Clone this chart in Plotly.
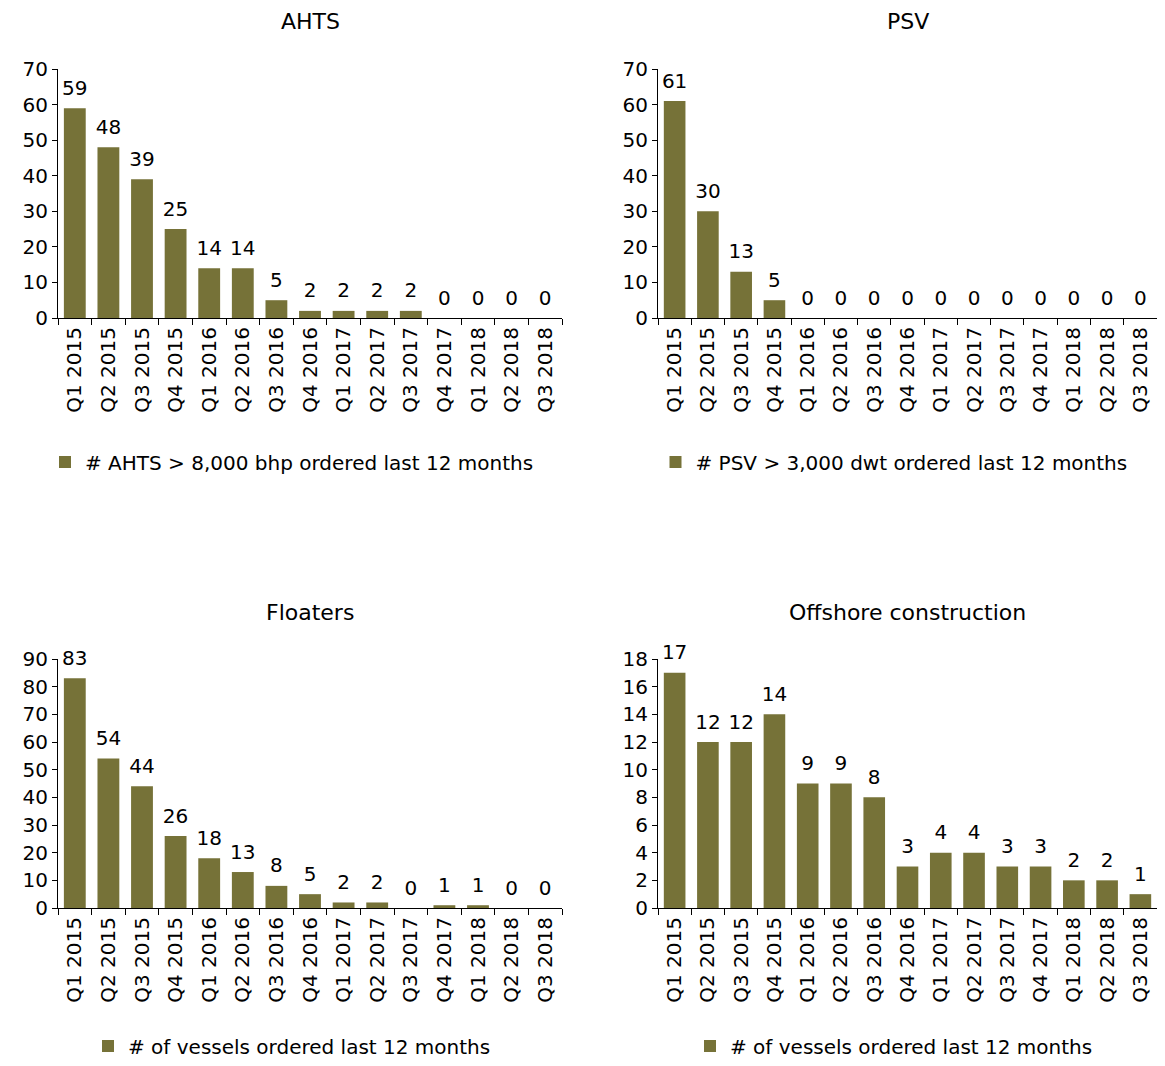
import plotly.graph_objects as go

quarters = ["Q1 2015", "Q2 2015", "Q3 2015", "Q4 2015", "Q1 2016", "Q2 2016", "Q3 2016",
            "Q4 2016", "Q1 2017", "Q2 2017", "Q3 2017", "Q4 2017", "Q1 2018", "Q2 2018", "Q3 2018"]
ahts = [59, 48, 39, 25, 14, 14, 5, 2, 2, 2, 2, 0, 0, 0, 0]
psv = [61, 30, 13, 5, 0, 0, 0, 0, 0, 0, 0, 0, 0, 0, 0]
floaters = [83, 54, 44, 26, 18, 13, 8, 5, 2, 2, 0, 1, 1, 0, 0]
construction = [17, 12, 12, 14, 9, 9, 8, 3, 4, 4, 3, 3, 2, 2, 1]

titles = ["AHTS", "PSV", "Floaters", "Offshore construction"]
legend_names = ["# AHTS > 8,000 bhp ordered last 12 months",
                "# PSV > 3,000 dwt ordered last 12 months",
                "# of vessels ordered last 12 months",
                "# of vessels ordered last 12 months"]
series = [ahts, psv, floaters, construction]
y_max = [70, 70, 90, 18]
y_step = [10, 10, 10, 2]

# page has an 8px body margin; keep the figure inside the viewport
OFF = 8
W, H = 1165 - 2 * OFF, 1066 - 2 * OFF
FONT = "Verdana, DejaVu Sans, sans-serif"
FS = 20
COLOR = "#767238"

# reference pixel boxes of plot areas (page coords): (x0, x1, ytop, ybottom)
boxes = [(58, 562, 69, 318), (658, 1157, 69, 318), (58, 562, 659, 908), (658, 1157, 659, 908)]
title_y = [22, 22, 612, 612]
legend_cx = [292, 894, 292, 894]
legend_y = [462, 462, 1046, 1046]


def px(x):
    return (x - OFF) / W


def py(y):
    return 1 - (y - OFF) / H


fig = go.Figure()
layout = dict(
    width=W, height=H, margin=dict(l=0, r=0, t=0, b=0, autoexpand=False),
    paper_bgcolor="white", plot_bgcolor="white",
    font=dict(family=FONT, size=FS, color="black"),
    bargap=0.35, showlegend=True, annotations=[],
)

for i in range(4):
    ax = "" if i == 0 else str(i + 1)
    leg = "legend" if i == 0 else f"legend{i + 1}"
    x0, x1, yt, yb = boxes[i]
    fig.add_trace(go.Bar(
        x=quarters, y=series[i], name=legend_names[i],
        marker=dict(color=COLOR, line=dict(width=0)),
        xaxis="x" + ax, yaxis="y" + ax, legend=leg, showlegend=True,
        hoverinfo="x+y",
    ))
    fig.add_trace(go.Scatter(
        x=quarters, y=series[i], mode="markers+text", text=[str(v) for v in series[i]],
        textposition="top center", cliponaxis=False,
        marker=dict(size=12, opacity=0, color=COLOR),
        textfont=dict(family=FONT, size=FS, color="black"),
        xaxis="x" + ax, yaxis="y" + ax, showlegend=False, hoverinfo="skip",
    ))
    layout["xaxis" + ax] = dict(
        domain=[px(x0), px(x1)], anchor="y" + ax, automargin=False,
        type="category", range=[-0.5, len(quarters) - 0.5], autorange=False,
        tickangle=-90, showline=True, linecolor="black", linewidth=1,
        ticks="outside", ticklen=6, tickcolor="black", tickson="boundaries",
        showgrid=False, zeroline=False, tickfont=dict(family=FONT, size=FS),
    )
    layout["yaxis" + ax] = dict(
        domain=[py(yb), py(yt)], anchor="x" + ax, automargin=False,
        range=[0, y_max[i]], autorange=False, dtick=y_step[i], tick0=0,
        showline=True, linecolor="black", linewidth=1,
        ticks="outside", ticklen=5, tickcolor="black",
        showgrid=False, zeroline=False, tickfont=dict(family=FONT, size=FS),
    )
    layout[leg] = dict(
        x=px(legend_cx[i]), y=py(legend_y[i]), xanchor="center", yanchor="middle",
        orientation="h", bgcolor="rgba(0,0,0,0)", font=dict(family=FONT, size=FS),
        itemwidth=30,
    )
    layout["annotations"].append(dict(
        text=titles[i], x=px((x0 + x1) / 2), y=py(title_y[i]), xref="paper", yref="paper",
        xanchor="center", yanchor="middle", showarrow=False,
        font=dict(family=FONT, size=22, color="black"),
    ))

fig.update_layout(**layout)
fig.write_html("out.html")
